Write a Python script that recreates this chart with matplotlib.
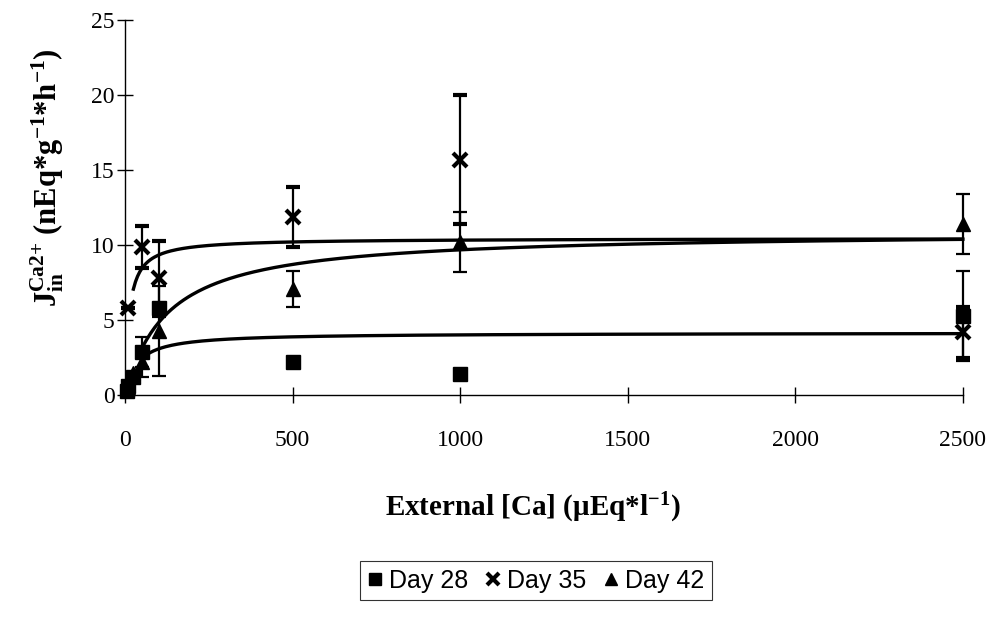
import numpy as np
import matplotlib
matplotlib.use("Agg")
import matplotlib.pyplot as plt

plt.rcParams['font.family'] = ['Liberation Serif', 'DejaVu Serif']
plt.rcParams['mathtext.default'] = 'regular'

# Ca2+ influx vs. external calcium, three sampling days
conc = [5, 10, 25, 50, 100, 500, 1000, 2500]

day28 = [0.3, 0.6, 1.2, 2.9, 5.8, 2.2, 1.4, 5.3]
day28_err = [0, 0, 0, 1.0, 0, 0, 0, 3.0]

conc35 = [10, 50, 100, 500, 1000, 2500]
day35 = [5.8, 9.9, 7.8, 11.9, 15.7, 4.2]
day35_err = [0, 1.4, 2.5, 2.0, 4.3, 1.7]

conc42 = [10, 25, 50, 100, 500, 1000, 2500]
day42 = [0.5, 1.5, 2.2, 4.3, 7.1, 10.2, 11.4]
day42_err = [0, 0, 1.0, 3.0, 1.2, 2.0, 2.0]

# Michaelis-Menten fits: (Vmax, Km, first concentration drawn)
fit28 = (4.15, 35, 60)
fit35 = (10.45, 12, 25)
fit42 = (10.9, 126, 40)


def mm_curve(vmax, km, x0):
    x = np.linspace(x0, 2500, 400)
    return x, vmax * x / (km + x)


fig = plt.figure(figsize=(9.89, 6.18), dpi=100)
ax = fig.add_axes([0.1264, 0.3608, 0.847, 0.6068])

for vmax, km, x0 in (fit28, fit35, fit42):
    xs, ys = mm_curve(vmax, km, x0)
    ax.plot(xs, ys, color='black', lw=2.4, zorder=2, clip_on=False)

eb = dict(color='black', ecolor='black', elinewidth=1.6, capsize=5, capthick=1.6,
          linestyle='none', zorder=3)
series = [
    (conc, day28, day28_err, 's', {}, 'Day 28'),
    (conc35, day35, day35_err, 'x', {'mew': 3}, 'Day 35'),
    (conc42, day42, day42_err, '^', {}, 'Day 42'),
]
for xs, ys, err, mk, extra, lab in series:
    cont = ax.errorbar(xs, ys, yerr=err, marker=mk, ms=10, label=lab, **extra, **eb)
    for art in cont.get_children():
        art.set_clip_on(False)

ax.set_xlim(0, 2500)
ax.set_ylim(0, 25)
ax.set_xticks([0, 500, 1000, 1500, 2000, 2500])
ax.set_yticks([0, 5, 10, 15, 20, 25])
ax.spines['top'].set_visible(False)
ax.spines['right'].set_visible(False)
for s in ('left', 'bottom'):
    ax.spines[s].set_linewidth(1.0)
ax.tick_params(axis='both', direction='inout', length=11, width=1.0, labelsize=17)
ax.tick_params(axis='x', pad=20)
ax.tick_params(axis='y', pad=2)

ax.set_xlabel("External [Ca] (\u03bcEq*l$^{-1}$)", fontsize=21, fontweight='bold')
ax.xaxis.set_label_coords(0.487, -0.255)
ax.set_ylabel("J$_{in}^{Ca2{+}}$ (nEq*g$^{-1}$*h$^{-1}$)", fontsize=22, fontweight='bold')
ax.yaxis.set_label_coords(-0.071, 0.58)

handles, labels = ax.get_legend_handles_labels()
handles = [h[0] for h in handles]
leg = fig.legend(handles, labels, loc='center', bbox_to_anchor=(0.542, 0.06),
                 ncol=3, frameon=True, fancybox=False, edgecolor='black',
                 prop={'family': 'Liberation Sans', 'size': 18},
                 handlelength=0.6, handletextpad=0.25, columnspacing=0.7,
                 borderpad=0.3, markerscale=0.85)
leg.get_frame().set_linewidth(0.8)

fig.savefig('out.png', dpi=100)
